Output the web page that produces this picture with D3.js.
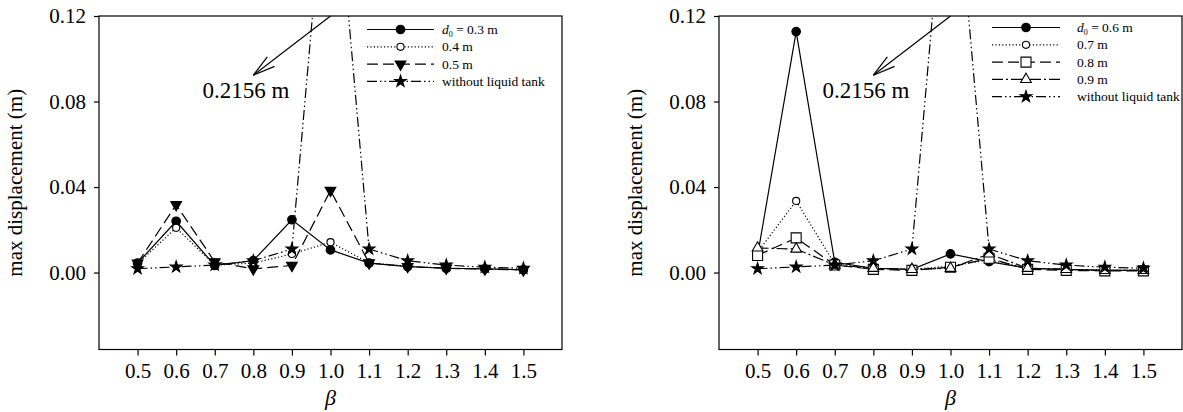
<!DOCTYPE html>
<html>
<head>
<meta charset="utf-8">
<script src="https://cdn.jsdelivr.net/npm/d3@7"></script>
<style>
    body { margin: 0; background: #fff; }
    svg { display: block; font-family: "Liberation Serif", "Times New Roman", serif; }
</style>
</head>
<body>
<div id="chart"></div>
<script>
// beta values (x axis)
const betas = [0.5, 0.6, 0.7, 0.8, 0.9, 1.0, 1.1, 1.2, 1.3, 1.4, 1.5];
const xTicks = [0.5, 0.6, 0.7, 0.8, 0.9, 1.0, 1.1, 1.2, 1.3, 1.4, 1.5];
const yTicks = [0.00, 0.04, 0.08, 0.12];

// max displacement without the liquid tank (same in both panels)
const noTank = [0.0018, 0.0026, 0.0035, 0.0055, 0.011, 0.2156, 0.011, 0.0055, 0.0035, 0.0025, 0.002];
const peakText = "0.2156 m";

// left panel
const d03 = [0.0044, 0.024, 0.0033, 0.0056, 0.0247, 0.0106, 0.0044, 0.0028, 0.002, 0.0017, 0.0013];
const d04 = [0.0042, 0.0209, 0.0035, 0.0044, 0.0087, 0.0142, 0.0045, 0.003, 0.002, 0.0017, 0.0013];
const d05 = [0.0044, 0.0317, 0.005, 0.0017, 0.0033, 0.0384, 0.0045, 0.0028, 0.002, 0.0016, 0.0012];
const leftNames = ["0.3 m", "0.4 m", "0.5 m", "without liquid tank"];

// right panel
const d06 = [0.008, 0.1127, 0.0048, 0.002, 0.0015, 0.0087, 0.0051, 0.002, 0.0015, 0.001, 0.001];
const d07 = [0.0095, 0.0335, 0.004, 0.002, 0.0015, 0.003, 0.006, 0.002, 0.0015, 0.001, 0.001];
const d08 = [0.008, 0.0162, 0.0035, 0.0015, 0.001, 0.0025, 0.0067, 0.0015, 0.001, 0.0008, 0.0008];
const d09 = [0.0115, 0.011, 0.0035, 0.002, 0.0015, 0.002, 0.0087, 0.002, 0.0015, 0.001, 0.001];
const rightNames = ["0.6 m", "0.7 m", "0.8 m", "0.9 m", "without liquid tank"];

// line / marker styles
const styles = {
    solid:   {dash: null,                marker: d3.symbolCircle,   size: 58, fill: "#000", rot: 0},
    dotted:  {dash: "1.2,2.2",           marker: d3.symbolCircle,   size: 40, fill: "#fff", rot: 0},
    dashed:  {dash: "11,5",              marker: d3.symbolTriangle, size: 50, fill: "#000", rot: 180},
    square:  {dash: "11,5",              marker: d3.symbolSquare,   size: 100, fill: "#fff", rot: 0},
    dashdot: {dash: "11,3,2,3",          marker: d3.symbolTriangle, size: 50, fill: "#fff", rot: 0},
    tank:    {dash: "10,3,1.5,3,1.5,3",  marker: d3.symbolStar,     size: 42, fill: "#000", rot: 0}
};

const width = 1183, height = 412;
const svg = d3.select("#chart").append("svg")
    .attr("width", width)
    .attr("height", height);

class Panel {
    constructor(id, left, right, series, names, legend) {
        this.id = id;
        this.left = left;
        this.right = right;
        this.series = series;
        this.names = names;
        this.legend = legend;
        this.initVis();
    }

    initVis() {
        let vis = this;
        vis.top = 16;
        vis.bottom = 349.5;

        vis.x = d3.scaleLinear().domain([0.4, 1.6]).range([vis.left, vis.right]);
        vis.y = d3.scaleLinear().domain([-0.036, 0.12]).range([vis.bottom, vis.top]);

        vis.g = svg.append("g").attr("class", "panel");

        svg.append("clipPath").attr("id", "clip-" + vis.id)
            .append("rect")
            .attr("x", vis.left).attr("y", vis.top)
            .attr("width", vis.right - vis.left).attr("height", vis.bottom - vis.top);

        // frame
        vis.g.append("rect")
            .attr("x", vis.left).attr("y", vis.top)
            .attr("width", vis.right - vis.left).attr("height", vis.bottom - vis.top)
            .attr("fill", "none").attr("stroke", "#000").attr("stroke-width", 1.2);

        // axes
        let xAxis = d3.axisBottom(vis.x).tickValues(xTicks).tickFormat(d3.format(".1f"))
            .tickSize(6).tickSizeOuter(0).tickPadding(8);
        let yAxis = d3.axisLeft(vis.y).tickValues(yTicks).tickFormat(d3.format(".2f"))
            .tickSize(5).tickSizeOuter(0).tickPadding(8);

        vis.g.append("g").attr("transform", "translate(0," + vis.bottom + ")").call(xAxis);
        vis.g.append("g").attr("transform", "translate(" + vis.left + ",0)").call(yAxis);

        vis.g.selectAll(".domain").remove();
        vis.g.selectAll(".tick line").attr("stroke", "#000").attr("stroke-width", 1.2);
        vis.g.selectAll(".tick text")
            .attr("fill", "#000")
            .style("font-family", "'Liberation Serif', 'Times New Roman', serif")
            .style("font-size", "21px");

        // axis titles
        vis.g.append("text")
            .attr("transform", "translate(" + (vis.left - 77) + "," + ((vis.top + vis.bottom) / 2) + ") rotate(-90)")
            .attr("text-anchor", "middle")
            .style("font-size", "21px")
            .text("max displacement (m)");

        vis.g.append("text")
            .attr("x", (vis.left + vis.right) / 2)
            .attr("y", 405)
            .attr("text-anchor", "middle")
            .style("font-size", "22px")
            .style("font-style", "italic")
            .text("β");

        vis.updateVis();
    }

    updateVis() {
        let vis = this;

        let line = d3.line()
            .x((d, i) => vis.x(betas[i]))
            .y(d => vis.y(d));

        let plot = vis.g.append("g").attr("clip-path", "url(#clip-" + vis.id + ")");

        vis.series.forEach(function (s) {
            let st = styles[s.style];
            plot.append("path")
                .datum(s.values)
                .attr("d", line)
                .attr("fill", "none")
                .attr("stroke", "#000")
                .attr("stroke-width", 1.2)
                .attr("stroke-dasharray", st.dash);
        });

        vis.series.forEach(function (s) {
            let st = styles[s.style];
            plot.selectAll(null)
                .data(s.values.map((v, i) => [betas[i], v]).filter(d => d[1] <= 0.12))
                .enter()
                .append("path")
                .attr("d", d3.symbol().type(st.marker).size(st.size))
                .attr("transform", d => "translate(" + vis.x(d[0]) + "," + vis.y(d[1]) + ") rotate(" + st.rot + ")")
                .attr("fill", st.fill)
                .attr("stroke", "#000")
                .attr("stroke-width", 1.1);
        });

        // annotation arrow for the clipped peak
        let sx = vis.x(1.0), sy = vis.y(0.12);
        let tx = vis.x(0.8), ty = vis.y(0.0923);
        let ang = Math.atan2(sy - ty, sx - tx);
        let arm = 23, spread = 15 * Math.PI / 180;
        vis.g.append("line")
            .attr("x1", sx).attr("y1", sy).attr("x2", tx).attr("y2", ty)
            .attr("stroke", "#000").attr("stroke-width", 1.2);
        [-spread, spread].forEach(function (a) {
            vis.g.append("line")
                .attr("x1", tx).attr("y1", ty)
                .attr("x2", tx + arm * Math.cos(ang + a))
                .attr("y2", ty + arm * Math.sin(ang + a))
                .attr("stroke", "#000").attr("stroke-width", 1.2);
        });
        vis.g.append("text")
            .attr("x", vis.x(0.668))
            .attr("y", vis.y(0.0815))
            .style("font-size", "23px")
            .text(peakText);

        // legend
        let lg = vis.g.append("g");
        let rows = lg.selectAll("g")
            .data(vis.series)
            .enter()
            .append("g")
            .attr("transform", (d, i) => "translate(" + (vis.left + vis.legend.x) + "," + (vis.legend.y + i * 17.3) + ")");

        rows.append("line")
            .attr("x1", 0).attr("x2", vis.legend.len)
            .attr("stroke", "#000").attr("stroke-width", 1.2)
            .attr("stroke-dasharray", d => styles[d.style].dash);

        rows.append("path")
            .attr("d", d => d3.symbol().type(styles[d.style].marker).size(styles[d.style].size)())
            .attr("transform", d => "translate(" + vis.legend.len / 2 + ",0) rotate(" + styles[d.style].rot + ")")
            .attr("fill", d => styles[d.style].fill)
            .attr("stroke", "#000").attr("stroke-width", 1.1);

        rows.each(function (d, i) {
            let t = d3.select(this).append("text")
                .attr("x", vis.legend.text)
                .attr("y", 4.5)
                .style("font-size", "13.5px");
            if (i === 0) {
                t.append("tspan").style("font-style", "italic").text("d");
                t.append("tspan").attr("dy", 3).style("font-size", "8px").text("0");
                t.append("tspan").attr("dy", -3).text(" = " + vis.names[i]);
            } else {
                t.text(vis.names[i]);
            }
        });
    }
}

new Panel("left", 99, 562, [
    {values: d03, style: "solid"},
    {values: d04, style: "dotted"},
    {values: d05, style: "dashed"},
    {values: noTank, style: "tank"}
], leftNames, {x: 268, y: 29.5, len: 67, text: 75});

new Panel("right", 719, 1182, [
    {values: d06, style: "solid"},
    {values: d07, style: "dotted"},
    {values: d08, style: "square"},
    {values: d09, style: "dashdot"},
    {values: noTank, style: "tank"}
], rightNames, {x: 273, y: 27.5, len: 68, text: 85});
</script>
</body>
</html>
